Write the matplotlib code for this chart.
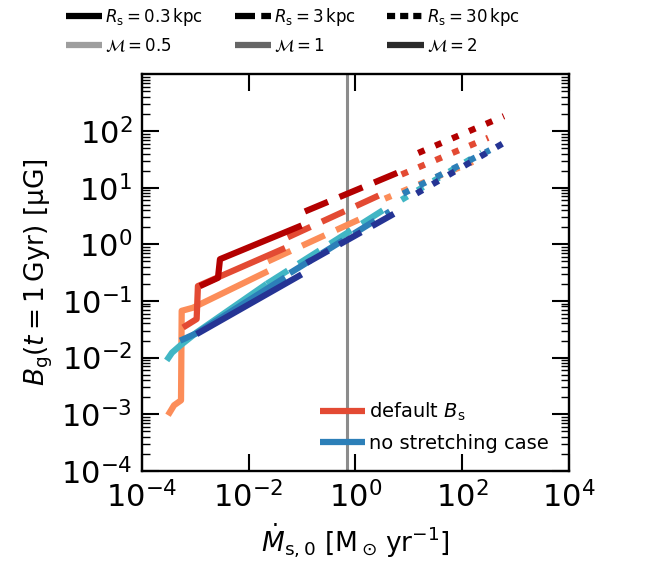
import matplotlib
matplotlib.use("Agg")
import matplotlib.pyplot as plt
from matplotlib.lines import Line2D
from matplotlib.ticker import LogLocator, NullLocator

# Mdot [Msun/yr] and B_g [muG]
# default B_s, M = 0.5
mdot_m05_r03 = [3.08e-4, 4.0e-4, 5.4e-4, 5.56e-4, 9.06e-4, 0.023]
bg_m05_r03 = [9.6e-4, 1.44e-3, 1.76e-3, 0.067, 0.076, 0.336]
mdot_m05_r3 = [0.023, 1.87]
bg_m05_r3 = [0.50, 3.36]
mdot_m05_r30 = [3.56, 158]
bg_m05_r30 = [6.4, 28.6]
# default B_s, M = 1
mdot_m1_r03 = [5.9e-4, 1.06e-3, 1.12e-3, 0.048]
bg_m1_r03 = [0.034, 0.048, 0.183, 0.86]
mdot_m1_r3 = [0.054, 3.27]
bg_m1_r3 = [1.33, 7.85]
mdot_m1_r30 = [7.3, 307]
bg_m1_r30 = [17.1, 76]
# default B_s, M = 2
mdot_m2_r03 = [1.22e-3, 2.66e-3, 2.9e-3, 0.098]
bg_m2_r03 = [0.183, 0.256, 0.546, 2.15]
mdot_m2_r3 = [0.113, 6.8]
bg_m2_r3 = [3.8, 19.1]
mdot_m2_r30 = [15, 604]
bg_m2_r30 = [41, 183]

# no stretching case
ns_mdot_m05_r03 = [2.91e-4, 3.66e-4, 5.2e-4, 1.06e-3, 0.0217]
ns_bg_m05_r03 = [8.9e-3, 0.0122, 0.0163, 0.0278, 0.2]
ns_mdot_m05_r3 = [0.0217, 3.56]
ns_bg_m05_r3 = [0.2, 4.2]
ns_mdot_m05_r30 = [7.3, 231]
ns_bg_m05_r30 = [6.1, 41.7]
ns_mdot_m1_r03 = [5.2e-4, 1.06e-3, 0.048]
ns_bg_m1_r03 = [0.0199, 0.027, 0.26]
ns_mdot_m1_r3 = [0.059, 4.4]
ns_bg_m1_r3 = [0.31, 3.8]
ns_mdot_m1_r30 = [7.8, 330]
ns_bg_m1_r30 = [7.85, 46]
ns_mdot_m2_r03 = [1.06e-3, 0.098]
ns_bg_m2_r03 = [0.026, 0.294]
ns_mdot_m2_r3 = [0.122, 5.5]
ns_bg_m2_r3 = [0.47, 3.54]
ns_mdot_m2_r30 = [14, 817]
ns_bg_m2_r30 = [7.9, 73]

mdot_vline = 0.68

red_cols = ['#fc8d59', '#e34a33', '#b30000']
blue_cols = ['#41b6c4', '#2c7fb8', '#253494']
gray_cols = ['0.62', '0.4', '0.17']

default_runs = [
    [(mdot_m05_r03, bg_m05_r03), (mdot_m05_r3, bg_m05_r3), (mdot_m05_r30, bg_m05_r30)],
    [(mdot_m1_r03, bg_m1_r03), (mdot_m1_r3, bg_m1_r3), (mdot_m1_r30, bg_m1_r30)],
    [(mdot_m2_r03, bg_m2_r03), (mdot_m2_r3, bg_m2_r3), (mdot_m2_r30, bg_m2_r30)],
]
nostretch_runs = [
    [(ns_mdot_m05_r03, ns_bg_m05_r03), (ns_mdot_m05_r3, ns_bg_m05_r3), (ns_mdot_m05_r30, ns_bg_m05_r30)],
    [(ns_mdot_m1_r03, ns_bg_m1_r03), (ns_mdot_m1_r3, ns_bg_m1_r3), (ns_mdot_m1_r30, ns_bg_m1_r30)],
    [(ns_mdot_m2_r03, ns_bg_m2_r03), (ns_mdot_m2_r3, ns_bg_m2_r3), (ns_mdot_m2_r30, ns_bg_m2_r30)],
]

lw = 4.5
styles = [dict(ls='-'), dict(dashes=(4, 2)), dict(dashes=(1.1, 1.85))]

fig = plt.figure(figsize=(6.51, 5.68), dpi=100)
ax = fig.add_axes([0.218, 0.171, 0.656, 0.698])

ax.axvline(mdot_vline, color='0.55', lw=2.2, zorder=1)

for runs, cols in [(default_runs, red_cols), (nostretch_runs, blue_cols)]:
    for im, mach_runs in enumerate(runs):
        for ir, (x, y) in enumerate(mach_runs):
            ax.plot(x, y, color=cols[im], lw=lw, solid_capstyle='butt',
                    dash_capstyle='butt', **styles[ir])

ax.set_xscale('log')
ax.set_yscale('log')
ax.set_xlim(1e-4, 1e4)
ax.xaxis.set_major_locator(LogLocator(base=100))
ax.xaxis.set_minor_locator(NullLocator())
ax.yaxis.set_minor_locator(LogLocator(base=10, subs=range(2, 10), numticks=20))
ax.tick_params(which='both', direction='in', top=True, right=True, labelsize=22)
ax.tick_params(which='major', length=12, width=1.5, pad=7)
ax.tick_params(which='minor', length=6, width=1.0)
for sp in ax.spines.values():
    sp.set_linewidth(1.7)
ax.set_yticks([1e-4, 1e-3, 1e-2, 1e-1, 1e0, 1e1, 1e2])
ax.set_ylim(1e-4, 1e3)

ax.set_xlabel(r'$\dot{M}_\mathrm{s,0}\ [\mathrm{M_\odot\,yr^{-1}}]$', fontsize=19, labelpad=6)
ax.set_ylabel(r'$B_\mathrm{g}(t=1\,\mathrm{Gyr})$ [μG]', fontsize=19, labelpad=4)

# legend inside: model variants
case_handles = [Line2D([], [], color=red_cols[1], lw=lw, solid_capstyle='butt'),
                Line2D([], [], color=blue_cols[1], lw=lw, solid_capstyle='butt')]
ax.legend(case_handles, [r'default $B_\mathrm{s}$', 'no stretching case'],
          loc='lower left', bbox_to_anchor=(0.417, 0.045), frameon=False,
          fontsize=14, handlelength=2.3, handletextpad=0.2, labelspacing=0.55,
          borderpad=0, borderaxespad=0)

# legend on top: R_s and Mach
rs_labels = [r'$R_\mathrm{s} = 0.3\,\mathrm{kpc}$', r'$R_\mathrm{s} = 3\,\mathrm{kpc}$',
             r'$R_\mathrm{s} = 30\,\mathrm{kpc}$']
mach_labels = [r'$\mathcal{M} = 0.5$', r'$\mathcal{M} = 1$', r'$\mathcal{M} = 2$']
leg_styles = [dict(ls='-'), dict(dashes=(3.2, 1.0)), dict(dashes=(1.3, 0.8))]
handles, labels = [], []
for i in range(3):
    handles.append(Line2D([], [], color='k', lw=lw, dash_capstyle='butt',
                          solid_capstyle='butt', **leg_styles[i]))
    labels.append(rs_labels[i])
    handles.append(Line2D([], [], color=gray_cols[i], lw=lw, solid_capstyle='butt'))
    labels.append(mach_labels[i])
fig.legend(handles, labels, ncol=3, loc='upper left', bbox_to_anchor=(0.096, 0.995),
           frameon=False, fontsize=12, handlelength=2.2, handletextpad=0.15,
           columnspacing=1.9, labelspacing=0.5, borderpad=0.2, borderaxespad=0)

fig.savefig('out.png', dpi=100)
